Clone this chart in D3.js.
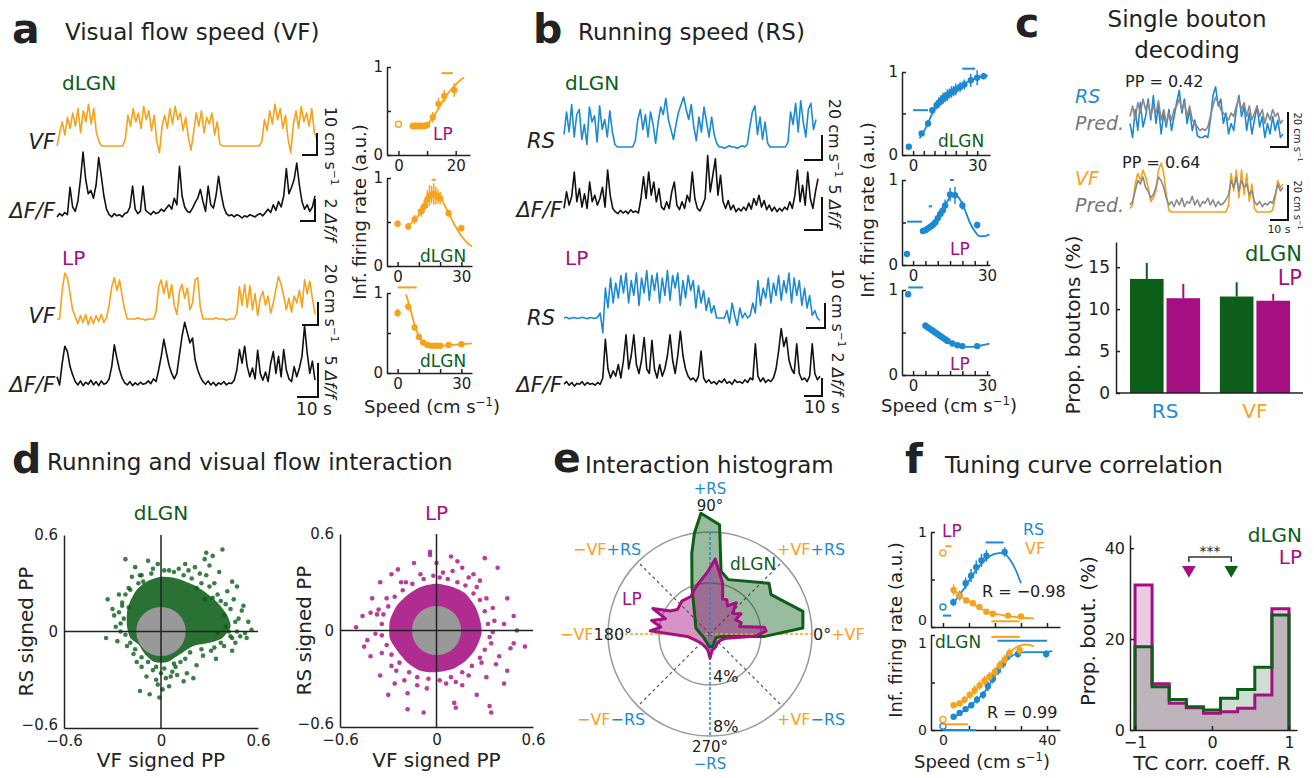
<!DOCTYPE html>
<html>
<head>
<meta charset="utf-8">
<script src="https://cdn.jsdelivr.net/npm/d3@7/dist/d3.min.js"></script>
<style>
  body { margin: 0; background: #fff; }
  svg text { font-family: "DejaVu Sans", "Liberation Sans", sans-serif; fill: #222; }
</style>
</head>
<body>
<script>
// ---------- traces (a, b): one sample every ~2.6 px ----------
const vfDlgn = [0,6,11,5,13,8,15,9,17,6,16,11,19,10,17,6,2,0,0,0,0,0,0,0,0,0,3,14,9,17,11,15,8,18,12,16,7,14,2,-3,9,14,8,17,10,18,12,15,7,13,4,-2,6,15,9,16,6,13,10,15,5,11,1,0,0,0,0,0,0,0,0,0,0,0,0,0,0,0,2,12,7,16,10,19,12,17,8,14,3,-3,10,16,8,18,11,15,9,17,6,3];
const dffDlgnA = [0.1,0.4,0.2,0.5,0.3,2.8,1.0,0.6,1.5,3.5,6.0,3.5,2.2,2.5,1.8,3.0,5.5,3.8,2.0,0.8,0.3,0.1,0.4,0.2,0.3,0.1,0.4,0.5,1.0,2.9,0.8,0.4,0.6,2.9,0.7,0.5,0.3,0.6,0.4,0.5,0.8,0.6,0.9,1.2,0.8,1.8,1.2,4.7,2.0,1.0,0.6,0.5,0.9,1.4,1.8,2.6,1.5,0.6,2.9,1.2,0.9,2.0,3.8,2.2,1.0,0.4,0.2,0.3,0.1,0.3,0.2,0.0,0.2,0.1,0.3,0.2,0.1,0.3,0.4,0.2,0.5,0.8,0.5,1.2,0.7,1.5,1.0,2.0,4.5,2.2,2.8,3.5,5.0,3.0,1.5,0.8,1.2,0.6,1.0,2.0];
const vfLp = [0,0,25,40,36,22,8,2,-4,3,-3,4,-5,2,-4,3,-2,4,-3,1,12,28,36,25,34,20,8,0,0,0,0,1,0,0,-1,0,0,0,6,28,34,22,33,18,30,12,4,24,30,18,27,8,14,34,36,10,0,0,0,0,0,1,0,0,0,-1,0,0,0,5,28,12,30,10,29,8,22,3,18,24,12,20,5,14,26,37,30,20,8,18,6,20,14,25,10,34,22,33,18,4];
const dffLpA = [1.5,0.3,3.5,6.0,5.2,3.0,1.8,0.8,0.3,0.9,0.2,0.7,0.4,1.0,0.3,0.8,0.2,0.9,0.4,0.6,1.2,3.0,6.2,4.2,2.5,1.3,0.6,0.3,0.8,0.2,0.6,0.3,0.7,0.4,0.5,0.9,0.5,1.2,0.8,2.5,4.5,7.0,5.0,3.2,2.0,1.2,2.0,4.8,7.5,9.5,8.0,6.5,7.2,4.0,2.5,1.5,0.8,0.4,0.9,0.3,0.7,0.2,0.6,0.4,0.8,0.3,0.6,0.5,1.0,2.5,5.5,3.5,6.0,3.0,1.5,2.8,1.2,5.4,2.0,1.0,2.2,0.8,3.5,5.2,2.0,4.5,1.5,5.5,2.5,1.2,0.8,3.0,1.5,2.8,4.5,9.0,5.0,2.0,3.8,1.0];
const rsDlgn = [10,28,12,34,8,26,30,6,18,2,32,20,25,4,33,14,22,8,29,12,2,0,0,0,0,0,0,0,5,22,30,14,26,8,28,18,3,20,32,26,39,22,14,6,18,28,34,40,30,22,34,16,5,24,12,32,20,8,24,10,3,0,0,-1,0,1,0,0,-1,0,1,0,2,16,28,33,10,24,6,20,3,0,0,0,0,0,0,0,4,28,18,35,12,37,20,8,30,35,14,22];
const dffDlgnB = [1.0,3.5,1.5,2.8,6.5,2.0,4.0,1.2,3.2,1.0,5.0,2.0,3.0,1.5,2.5,4.2,1.2,6.8,3.0,1.0,0.5,0.2,0.7,0.3,0.6,0.2,0.8,0.4,0.6,0.3,2.5,5.8,2.5,6.5,3.0,5.0,2.0,4.0,1.2,0.8,2.0,1.0,3.5,5.0,1.5,0.8,2.0,1.0,3.0,2.0,6.5,2.5,1.0,0.6,1.5,2.5,9.0,3.5,6.0,8.5,3.0,6.0,2.0,1.0,2.2,0.8,1.5,0.5,1.0,0.6,1.2,0.7,1.8,0.9,2.5,1.5,3.0,1.2,2.2,0.8,1.5,0.6,1.2,0.5,1.0,0.6,1.2,0.8,2.0,1.0,3.0,6.8,2.0,4.5,1.5,6.5,2.5,1.0,3.5,5.5];
const rsLp = [0,0.3,-0.3,0,0.2,-0.2,0,0.3,0,-0.3,0.2,0,-0.2,0.3,2,-6,12,4,16,6,14,8,17,10,18,6,15,9,18,5,16,10,19,7,17,11,18,6,16,9,19,7,17,12,18,5,15,8,17,11,15,4,13,6,11,3,8,2,5,0,0,0,0,3,-2,6,1,-3,4,0,2,0,1,6,2,15,5,12,8,16,6,14,9,17,7,15,10,18,6,16,9,15,5,12,4,9,1,3,0,-1];
const dffLpB = [0.3,0.6,0.2,0.5,0.1,0.4,0.3,0.6,0.2,0.5,0.3,0.4,0.2,0.5,0.3,1.0,5.3,2.0,1.0,1.8,1.2,2.5,1.0,3.0,5.8,2.0,3.5,5.8,2.5,1.5,3.0,5.5,2.0,1.5,5.2,2.0,1.0,2.5,1.2,2.0,3.5,5.8,3.0,1.5,3.5,6.2,3.5,2.0,1.2,0.8,1.0,0.6,1.2,4.0,1.0,0.5,0.8,0.4,0.6,0.3,0.7,0.5,0.9,0.4,0.6,0.3,0.8,0.5,0.6,0.4,0.8,0.5,1.0,0.8,4.8,1.2,0.6,1.0,0.5,0.8,0.6,1.0,2.0,4.0,6.5,4.5,5.5,3.0,2.0,1.5,4.8,1.5,0.8,1.0,0.6,1.2,4.8,1.5,0.8,1.2];

// ---------- decoding traces (c), cm/s ----------
const rsDecoded = [10,2,18,6,22,8,14,24,12,26,10,20,4,16,8,18,6,14,22,29,16,24,10,18,6,12,3,2,2,3,2,12,26,31,20,24,10,16,4,10,6,18,26,14,20,6,16,4,12,20,8,14,2,10,4,14,6,12,2,4];
const rsPredicted = [14,20,12,22,16,24,18,22,14,20,16,23,12,18,10,16,12,18,20,24,18,22,14,20,12,10,8,6,7,6,8,14,20,25,22,18,16,14,12,16,14,20,24,18,22,14,20,12,16,20,14,18,10,16,12,18,14,16,10,12];
const vfDecoded = [2,4,16,22,18,24,20,14,6,8,12,24,28,22,10,1,0,0,0,0,0,0,0,0,0,0,0,0,0,0,0,0,0,0,0,0,0,0,4,22,12,24,8,24,10,22,6,16,2,0,0,0,0,0,0,1,8,18,14,16];
const vfPredicted = [4,6,12,18,16,20,14,12,8,10,14,20,18,14,8,4,6,3,7,4,8,3,6,5,9,4,7,3,6,5,8,4,7,3,6,4,5,7,10,18,14,20,12,18,14,16,10,12,6,4,6,3,5,4,6,5,10,16,12,14];

// ---------- tuning curves: [speed, rate, err], fits, significance bars [x1, x2, y] ----------
const aLpVfPts = [[5,0.33,0.04],[6,0.33,0.04],[7,0.33,0.04],[8,0.33,0.04],[9,0.33,0.04],[10,0.34,0.04],[12,0.43,0.06],[14,0.58,0.07],[16,0.67,0.07],[19.5,0.74,0.08]];
const aLpVfOpen = [[0,0.35]];
const aLpVfFit = [[4,0.33],[8,0.33],[10,0.35],[12,0.42],[14,0.53],[16,0.64],[18,0.73],[20,0.8],[22,0.86],[23,0.88]];
const aLpVfBar = [[15,19,0.93]];
const aDlgnVf1Pts = [[0,0.48,0.04],[5,0.45,0.04],[8,0.53,0.05],[11,0.62,0.06],[12.5,0.68,0.07],[14,0.76,0.1],[15,0.8,0.12],[16,0.81,0.1],[17,0.82,0.12],[18,0.8,0.1],[19,0.79,0.08],[20,0.77,0.07],[24,0.6,0.04],[30,0.43,0.04]];
const aDlgnVf1Fit = [[4,0.45],[8,0.52],[11,0.62],[14,0.75],[17,0.82],[19,0.81],[21,0.74],[24,0.6],[27,0.46],[30,0.34],[33,0.26],[35,0.22]];
const aDlgnVf1Bar = [[16,18,0.98]];
const aDlgnVf2Pts = [[0,0.75,0.05],[5,0.83,0.05],[8,0.57,0.04],[10,0.45,0.03],[12,0.38,0.03],[14,0.35,0.03],[16,0.34,0.03],[18,0.34,0.03],[20,0.34,0.03],[24,0.35,0.03],[30,0.36,0.03]];
const aDlgnVf2Fit = [[4,0.98],[6,0.8],[8,0.6],[10,0.46],[12,0.38],[15,0.34],[20,0.34],[25,0.35],[30,0.36],[35,0.37]];
const aDlgnVf2Bar = [[0,9,1.07]];
const bDlgnRsPts = [[-2,0.1,0.02],[4,0.26,0.03],[7,0.38,0.04],[9,0.54,0.04],[11,0.6,0.05],[12,0.63,0.06],[13,0.66,0.06],[14,0.68,0.07],[15,0.7,0.06],[16,0.72,0.07],[17,0.74,0.06],[18,0.76,0.07],[19,0.77,0.06],[20,0.79,0.07],[22,0.82,0.06],[24,0.85,0.06],[27,0.9,0.08],[30,0.93,0.09],[33,0.95,0.04]];
const bDlgnRsFit = [[3,0.2],[6,0.33],[9,0.5],[12,0.62],[15,0.7],[18,0.77],[21,0.82],[24,0.86],[27,0.9],[30,0.93],[35,0.96]];
const bDlgnRsBar = [[0,7,0.54],[23,29,1.04]];
const bLpRs1Pts = [[-2.5,0.13,0.02],[4,0.4,0.03],[5,0.41,0.03],[6,0.43,0.03],[7,0.45,0.03],[8,0.47,0.04],[9,0.5,0.04],[10,0.55,0.05],[11,0.6,0.06],[12,0.64,0.06],[13,0.7,0.07],[15,0.83,0.08],[17,0.82,0.1],[20,0.7,0.05],[26,0.47,0.04]];
const bLpRs1Fit = [[4,0.4],[7,0.45],[10,0.55],[13,0.7],[15,0.8],[17,0.83],[19,0.77],[21,0.65],[23,0.5],[25,0.4],[27,0.34],[29,0.34],[31,0.36]];
const bLpRs1Bar = [[-2.4,3.6,0.51],[6.3,7.7,0.69],[15,16.5,1.0]];
const bLpRs2Pts = [[-2,0.95,0.03],[5,0.58,0.04],[6,0.56,0.04],[7,0.54,0.04],[8,0.52,0.04],[9,0.5,0.04],[10,0.48,0.04],[11,0.46,0.04],[12,0.44,0.04],[13,0.42,0.04],[14,0.4,0.03],[16,0.37,0.03],[18,0.35,0.03],[20,0.34,0.03],[26,0.34,0.03]];
const bLpRs2Fit = [[4,0.6],[8,0.52],[12,0.44],[16,0.37],[20,0.33],[24,0.33],[28,0.35],[31,0.37]];
const bLpRs2Bar = [[-2,4,1.03]];
const fLpRsPts = [[4,0.26,0.04],[6.4,0.33,0.05],[8.7,0.46,0.06],[10.8,0.54,0.07],[12.8,0.63,0.07],[14.8,0.7,0.07],[16.7,0.75,0.06],[23.7,0.79,0.05]];
const fLpRsOpen = [[0,0.21]];
const fLpRsFit = [[4,0.25],[8,0.4],[12,0.57],[16,0.7],[20,0.77],[23,0.78],[26,0.7],[28,0.6],[30,0.46]];
const fLpRsBar = [[16.4,23.3,0.89],[0,3.2,0.12]];
const fLpVfPts = [[4.1,0.39,0.06],[6.4,0.33,0.04],[9,0.28,0.03],[11.5,0.25,0.03],[14,0.21,0.03],[16.7,0.16,0.02],[19.2,0.14,0.02],[25,0.12,0.02],[30,0.11,0.02]];
const fLpVfOpen = [[0,0.78]];
const fLpVfFit = [[4,0.4],[7,0.32],[10,0.27],[14,0.2],[18,0.15],[22,0.13],[26,0.11],[30,0.1],[35,0.09]];
const fLpVfBar = [[0.9,3.2,0.85],[18.6,29.5,0.06]];
const fDlgnRsPts = [[4.1,0.14,0.02],[6.4,0.18,0.02],[8.7,0.22,0.03],[10.9,0.26,0.03],[13.1,0.32,0.04],[15.4,0.37,0.04],[17.3,0.46,0.05],[19.2,0.54,0.05],[21.2,0.63,0.05],[23.1,0.7,0.05],[25.4,0.79,0.05],[28.8,0.8,0.04],[39.7,0.8,0.04]];
const fDlgnRsOpen = [[0,0.04]];
const fDlgnRsFit = [[4,0.13],[8,0.2],[12,0.29],[16,0.4],[20,0.57],[24,0.72],[28,0.8],[32,0.82],[38,0.82],[42,0.83]];
const fDlgnRsBar = [[21,40,0.94],[0,12.8,0.0]];
const fDlgnVfPts = [[4.1,0.26,0.03],[6.4,0.28,0.03],[8.3,0.32,0.04],[10.3,0.37,0.04],[12.2,0.42,0.05],[14.1,0.47,0.05],[16,0.52,0.05],[17.9,0.56,0.05],[19.9,0.61,0.05],[21.8,0.68,0.05],[23.7,0.74,0.05],[25.6,0.81,0.05],[29.5,0.84,0.05]];
const fDlgnVfOpen = [[0,0.11]];
const fDlgnVfFit = [[4,0.25],[8,0.31],[12,0.41],[16,0.52],[20,0.63],[24,0.76],[27,0.85],[30,0.89],[32,0.9],[35,0.88]];
const fDlgnVfBar = [[18.6,29.5,0.98],[0,9.6,0.06]];

// ---------- c: proportion of boutons ----------
const barCats = ["RS", "VF"];
const barAreas = ["dLGN", "LP"];
const barVals = [[13.6, 11.3], [11.5, 11.0]];
const barErrTop = [[15.5, 13.0], [13.2, 11.8]];

// ---------- d: signed PP scatter (dense core outline + individual boutons) ----------
const grayRadius = 0.153;
const dlgnCore = [[0,0.34],[0.1,0.33],[0.2,0.29],[0.28,0.24],[0.35,0.18],[0.41,0.1],[0.43,0.03],[0.38,-0.04],[0.3,-0.07],[0.2,-0.09],[0.12,-0.14],[0.04,-0.19],[-0.04,-0.19],[-0.1,-0.14],[-0.14,-0.08],[-0.19,-0.04],[-0.21,0.03],[-0.21,0.12],[-0.19,0.19],[-0.15,0.26],[-0.09,0.31]];
const dlgnPts = [[0.38,0.51],[0.28,0.49],[0.32,0.47],[0.27,0.45],[-0.22,0.45],[-0.02,0.42],[0.15,0.42],[0.21,0.40],[0.17,0.38],[0.36,0.37],[0.28,0.35],[0.44,0.31],[-0.13,0.35],[-0.18,0.34],[-0.33,0.2],[-0.26,0.23],[0.50,0.13],[0.54,0.06],[0.56,0.01],[0.52,-0.01],[0.49,-0.03],[0.42,0],[0.43,-0.03],[-0.34,-0.04],[-0.28,0.03],[-0.25,0],[0.39,-0.09],[0.31,-0.12],[0.22,-0.21],[0.16,-0.26],[0.2,-0.29],[0.09,-0.22],[0.06,-0.28],[0.01,-0.36],[-0.01,-0.41],[0.05,-0.34],[-0.07,-0.39],[-0.13,-0.37],[-0.09,-0.28],[-0.17,-0.14],[-0.12,-0.22],[-0.05,-0.24],[0.03,-0.29],[0.12,-0.19],[0.35,-0.01],[0.40,0.03],[0.37,0.19],[0.45,0.2],[0.48,0.08],[0.41,0.25],[0.33,0.3],[0.24,0.36],[0.11,0.39],[0.05,0.38],[-0.06,0.36],[-0.11,0.31],[-0.2,0.27],[-0.24,0.18],[-0.29,0.1],[-0.27,-0.06],[-0.21,-0.09],[-0.15,-0.19],[-0.03,-0.3],[0.1,-0.27],[0.26,-0.15],[0.34,-0.17],[0.46,-0.07],[0.51,0.16],[0.3,0.41],[-0.3,0.14],[-0.23,0.08],[-0.02,-0.33],[0.14,-0.31],[0.44,-0.12],[0.53,-0.04],[0.47,0.28],[-0.16,0.4],[-0.08,0.44],
  [0.02,0.38],[0.08,0.37],[0.14,0.35],[0.19,0.33],[0.25,0.3],[0.3,0.28],[0.35,0.23],[0.4,0.17],[0.43,0.14],[0.46,0.06],[0.47,0.0],[0.44,-0.04],[0.37,-0.07],[0.33,-0.1],[0.25,-0.11],[0.18,-0.13],[0.15,-0.17],[0.08,-0.2],[0.02,-0.23],[-0.03,-0.22],[-0.08,-0.19],[-0.12,-0.16],[-0.16,-0.11],[-0.19,-0.07],[-0.22,-0.02],[-0.25,0.05],[-0.26,0.12],[-0.24,0.16],[-0.22,0.23],[-0.19,0.26],[-0.14,0.3],[-0.12,0.35],[-0.05,0.39],[0.22,0.27],[0.32,0.21],[0.27,0.2],[0.39,0.1],[-0.2,0.15],[0.0,-0.26],[0.07,-0.25]];
const lpCore = [[0,0.29],[0.1,0.27],[0.18,0.23],[0.24,0.15],[0.27,0.07],[0.28,-0.02],[0.24,-0.12],[0.18,-0.19],[0.1,-0.24],[0,-0.26],[-0.1,-0.25],[-0.18,-0.2],[-0.24,-0.13],[-0.29,-0.05],[-0.29,0.06],[-0.25,0.15],[-0.18,0.22],[-0.1,0.27]];
const lpPts = [[-0.04,0.49],[-0.04,0.47],[0.09,0.46],[0.30,0.45],[0.38,0.39],[-0.24,0.38],[-0.46,0.09],[-0.41,0.11],[-0.35,0.30],[0.50,0],[0.55,-0.10],[0.46,-0.11],[0.44,-0.25],[0.33,-0.47],[0.34,-0.51],[0.11,-0.45],[0.12,-0.48],[-0.08,-0.51],[-0.18,-0.49],[0.16,-0.34],[-0.12,-0.34],[-0.35,-0.28],[-0.41,-0.16],[0.27,0.31],[0.16,0.39],[0.35,0.14],[0.42,0.04],[0.48,-0.08],[0.37,-0.21],[0.31,-0.29],[-0.18,-0.39],[-0.26,-0.33],[-0.43,-0.06],[-0.28,0.35],[0.23,0.35],[0.48,0.09],[0.04,0.36],[-0.1,0.35],[-0.19,0.3],[-0.31,0.2],[-0.37,0.1],[-0.38,-0.02],[-0.34,-0.14],[-0.28,-0.22],[-0.2,-0.31],[-0.06,-0.36],[0.06,-0.33],[0.2,-0.28],[0.28,-0.2],[0.34,-0.08],[0.36,0.06],[0.31,0.2],[0.2,0.33],[0.1,0.37],[-0.4,0.2],[-0.3,-0.4],[0.42,-0.33],[0.25,-0.4],[-0.5,0.02],[0.44,0.2],[-0.14,0.42],[0.0,0.42],[0.39,-0.16],[-0.45,-0.1],[0.13,0.43],
  [0.02,0.33],[0.07,0.32],[0.13,0.3],[0.18,0.28],[0.23,0.23],[0.27,0.19],[0.3,0.12],[0.32,0.04],[0.33,-0.04],[0.3,-0.12],[0.27,-0.17],[0.22,-0.22],[0.16,-0.26],[0.09,-0.29],[0.02,-0.31],[-0.05,-0.3],[-0.12,-0.29],[-0.17,-0.26],[-0.23,-0.2],[-0.28,-0.15],[-0.31,-0.09],[-0.34,-0.03],[-0.34,0.04],[-0.33,0.1],[-0.3,0.15],[-0.26,0.21],[-0.21,0.25],[-0.15,0.29],[-0.08,0.32],[-0.02,0.34],[0.25,0.27],[-0.36,0.13],[0.35,-0.01],[0.12,-0.32],[-0.25,-0.25],[-0.22,0.3]];

// ---------- e: polar histogram, [angle deg, % boutons] ----------
const polarDlgn = [[-12,0.9],[-2.5,4.3],[3.7,7.3],[13.7,7.5],[32.8,5.7],[40.7,6.1],[71.4,4.5],[80,5.0],[85,8.6],[94.3,9.5],[98.8,8.0],[102.7,6.5],[110.7,4.0],[157,1.2],[171,0.85],[197,0.6],[241,0.65],[267,1.0],[282,1.0],[326,0.55]];
const polarLp = [[-3,3.5],[3,4.4],[7,4.3],[14,2.4],[20,2.6],[29,2.3],[33,2.9],[42,2.4],[50,3.2],[58,2.6],[64,3.0],[70,2.9],[76,4.1],[86,5.9],[92,4.9],[106,3.9],[117,3.3],[130,3.4],[143,3.2],[150,3.6],[156,4.9],[161,3.7],[167,4.7],[172,3.9],[177,4.7],[186,1.8],[200,1.3],[225,1.0],[252,1.1],[263,1.3],[270,1.9],[277,1.3],[295,1.1],[310,0.9],[333,1.0],[345,1.3]];

// ---------- f: TC correlation histogram ----------
const histEdges = [-1,-0.778,-0.556,-0.333,-0.111,0.111,0.333,0.556,0.778,1];
const histDlgn = [18.3,9.5,6.7,5.1,4.4,7.0,8.9,13.8,25.3];
const histLp = [31.9,10.2,5.9,4.9,3.7,4.0,4.8,7.7,26.7];
const medianLp = -0.3, medianDlgn = 0.25;

// ---------- drawing ----------
const ORANGE = "#f7a21c", BLUE = "#1c8ad2", GREEN = "#0c5e18", MAGENTA = "#a50f82", PRED = "#8a8a8a", INK = "#222";

const svg = d3.select("body").append("svg").attr("width", 1314).attr("height", 778);

// text helper: parts = string or [[text, color, "sup"|"it"]]
function label(x, y, parts, size, o = {}) {
  const t = svg.append("text").attr("x", x).attr("y", y).attr("font-size", size)
    .attr("text-anchor", o.anchor || "start");
  if (o.bold) t.attr("font-weight", "bold");
  if (o.italic) t.attr("font-style", "italic");
  if (o.rotate) t.attr("transform", `rotate(${o.rotate},${x},${y})`);
  if (typeof parts === "string") parts = [[parts, o.color || INK]];
  let shift = 0;
  parts.forEach(p => {
    const s = t.append("tspan").text(p[0]).style("fill", p[1] || INK);
    if (p[2] === "sup") { s.attr("font-size", size * 0.65).attr("dy", -size * 0.4); shift = size * 0.4; }
    else if (shift) { s.attr("dy", shift); shift = 0; }
    if (p[2] === "it") s.attr("font-style", "italic");
  });
  return t;
}

function styleAxis(g, size) {
  g.attr("font-size", size).attr("font-family", null);
  g.select(".domain").attr("stroke", INK).attr("stroke-width", 1.5);
  g.selectAll(".tick line").attr("stroke", INK).attr("stroke-width", 1.5);
}

function trace(vals, x0, x1, base, pxPerUnit, color, w) {
  const x = d3.scaleLinear().domain([0, vals.length - 1]).range([x0, x1]);
  const y = d3.scaleLinear().domain([0, 1]).range([base, base - pxPerUnit]);
  svg.append("path").datum(vals)
    .attr("fill", "none").attr("stroke", color).attr("stroke-width", w || 1.6)
    .attr("stroke-linejoin", "round")
    .attr("d", d3.line().x((d, i) => x(i)).y(d => y(d)));
}

function scaleBar(x, yb, vlen, hlen) {
  svg.append("path").attr("d", `M${x - hlen},${yb}H${x}V${yb - vlen}`)
    .attr("fill", "none").attr("stroke", "#111").attr("stroke-width", 2);
}

function tuning(o) {
  const x = d3.scaleLinear().domain(o.xDom).range([o.left, o.right]);
  const y = d3.scaleLinear().domain([0, 1]).range([o.bottom, o.top]);
  const gx = svg.append("g").attr("transform", `translate(0,${o.bottom})`)
    .call(d3.axisBottom(x).tickValues(o.xTicks).tickSizeInner(-4).tickSizeOuter(0).tickPadding(5)
      .tickFormat(v => (o.xLab || []).includes(v) ? v : ""));
  const gy = svg.append("g").attr("transform", `translate(${o.left},0)`)
    .call(d3.axisLeft(y).tickValues([0, 0.5, 1]).tickSizeInner(-4).tickSizeOuter(0).tickPadding(4)
      .tickFormat(v => v === 0.5 ? "" : v));
  styleAxis(gx, o.font || 15); styleAxis(gy, o.font || 15);
  // nudge stacked 0/1 labels apart where two plots touch
  if (o.dy0) gy.selectAll(".tick text").filter(v => v === 0).attr("dy", o.dy0);
  if (o.dy1) gy.selectAll(".tick text").filter(v => v === 1).attr("dy", o.dy1);
  o.curves.forEach(c => {
    svg.append("path").datum(c.fit).attr("fill", "none").attr("stroke", c.color).attr("stroke-width", 1.8)
      .attr("d", d3.line().x(d => x(d[0])).y(d => y(d[1])).curve(d3.curveMonotoneX));
    (c.bars || []).forEach(b => svg.append("line")
      .attr("x1", x(b[0])).attr("x2", x(b[1])).attr("y1", y(b[2])).attr("y2", y(b[2]))
      .attr("stroke", c.color).attr("stroke-width", 2));
    c.pts.forEach(p => {
      svg.append("line").attr("x1", x(p[0])).attr("x2", x(p[0]))
        .attr("y1", y(p[1] - p[2])).attr("y2", y(p[1] + p[2]))
        .attr("stroke", c.color).attr("stroke-width", 1.5);
      svg.append("circle").attr("cx", x(p[0])).attr("cy", y(p[1])).attr("r", 3.2).attr("fill", c.color);
    });
    (c.open || []).forEach(p => svg.append("circle").attr("cx", x(p[0])).attr("cy", y(p[1])).attr("r", 3)
      .attr("fill", "#fff").attr("stroke", c.color).attr("stroke-width", 1.4));
  });
}

// ===== panel a =====
label(12, 43, "a", 41, { bold: true });
label(65, 40, "Visual flow speed (VF)", 23);
label(62, 90, "dLGN", 20, { color: GREEN });
label(62, 265, "LP", 20, { color: MAGENTA });
label(55, 149, "VF", 21, { italic: true, anchor: "end" });
label(55, 218, "ΔF/F", 21, { italic: true, anchor: "end" });
label(55, 323, "VF", 21, { italic: true, anchor: "end" });
label(55, 392, "ΔF/F", 21, { italic: true, anchor: "end" });
trace(vfDlgn, 57, 317, 146, 2.2, ORANGE);
trace(dffDlgnA, 57, 315, 218, 11, "#111");
trace(vfLp, 57, 315, 319, 1.15, ORANGE);
trace(dffLpA, 57, 315, 387, 6.8, "#111");
scaleBar(317, 155, 10 * 2.2, 15);
scaleBar(315, 221, 2 * 11, 15);
scaleBar(318, 325, 20 * 1.15, 16);
scaleBar(318, 397, 5 * 6.8, 21);
label(325, 146, [["10 cm s"], ["−1", INK, "sup"]], 16, { anchor: "middle", rotate: 90 });
label(325, 220, [["2 "], ["Δf/f", INK, "it"]], 16, { anchor: "middle", rotate: 90 });
label(325, 303, [["20 cm s"], ["−1", INK, "sup"]], 16, { anchor: "middle", rotate: 90 });
label(325, 377, [["5 "], ["Δf/f", INK, "it"]], 16, { anchor: "middle", rotate: 90 });
label(314, 415, "10 s", 17, { anchor: "middle" });

tuning({ left: 387, right: 470, xDom: [-4, 25], top: 67, bottom: 155, xTicks: [0, 10, 20], xLab: [0, 20],
  curves: [{ pts: aLpVfPts, open: aLpVfOpen, fit: aLpVfFit, bars: aLpVfBar, color: ORANGE }] });
tuning({ left: 387, right: 472, xDom: [-5, 35], top: 178, bottom: 266, xTicks: [0, 10, 20, 30], xLab: [0, 30],
  curves: [{ pts: aDlgnVf1Pts, fit: aDlgnVf1Fit, bars: aDlgnVf1Bar, color: ORANGE }] });
tuning({ left: 387, right: 472, xDom: [-5, 35], top: 293, bottom: 373, xTicks: [0, 10, 20, 30], xLab: [0, 30],
  curves: [{ pts: aDlgnVf2Pts, fit: aDlgnVf2Fit, bars: aDlgnVf2Bar, color: ORANGE }] });
label(433, 140, "LP", 17, { color: MAGENTA });
label(420, 262, "dLGN", 17, { color: GREEN });
label(420, 367, "dLGN", 17, { color: GREEN });
label(366, 212, "Inf. firing rate (a.u.)", 18, { anchor: "middle", rotate: -90 });
label(432, 413, [["Speed (cm s"], ["−1", INK, "sup"], [")"]], 18, { anchor: "middle" });

// ===== panel b =====
label(533, 43, "b", 41, { bold: true });
label(578, 40, "Running speed (RS)", 23);
label(565, 90, "dLGN", 20, { color: GREEN });
label(565, 265, "LP", 20, { color: MAGENTA });
label(555, 148, "RS", 21, { italic: true, anchor: "end" });
label(562, 217, "ΔF/F", 21, { italic: true, anchor: "end" });
label(555, 325, "RS", 21, { italic: true, anchor: "end" });
label(562, 392, "ΔF/F", 21, { italic: true, anchor: "end" });
trace(rsDlgn, 564, 816, 147, 1.25, BLUE);
trace(dffDlgnB, 564, 818, 215, 6.6, "#111");
trace(rsLp, 564, 820, 318, 2.5, BLUE);
trace(dffLpB, 564, 820, 387, 9, "#111");
scaleBar(822, 160, 20 * 1.25, 18);
scaleBar(822, 230, 5 * 6.6, 18);
scaleBar(825, 328, 10 * 2.5, 19);
scaleBar(822, 396, 2 * 9, 18);
label(829, 138, [["20 cm s"], ["−1", INK, "sup"]], 16, { anchor: "middle", rotate: 90 });
label(829, 206, [["5 "], ["Δf/f", INK, "it"]], 16, { anchor: "middle", rotate: 90 });
label(832, 308, [["10 cm s"], ["−1", INK, "sup"]], 16, { anchor: "middle", rotate: 90 });
label(832, 374, [["2 "], ["Δf/f", INK, "it"]], 16, { anchor: "middle", rotate: 90 });
label(822, 413, "10 s", 17, { anchor: "middle" });

tuning({ left: 902, right: 990, xDom: [-5.2, 36], top: 72, bottom: 155, xTicks: [0, 5, 10, 15, 20, 25, 30], xLab: [0, 30],
  curves: [{ pts: bDlgnRsPts, fit: bDlgnRsFit, bars: bDlgnRsBar, color: BLUE }] });
tuning({ left: 902, right: 990, xDom: [-4.5, 31.2], top: 180, bottom: 265, xTicks: [0, 5, 10, 15, 20, 25, 30], xLab: [0, 30],
  curves: [{ pts: bLpRs1Pts, fit: bLpRs1Fit, bars: bLpRs1Bar, color: BLUE }] });
tuning({ left: 902, right: 990, xDom: [-4.5, 31.2], top: 290, bottom: 375, xTicks: [0, 5, 10, 15, 20, 25, 30], xLab: [0, 30],
  curves: [{ pts: bLpRs2Pts, fit: bLpRs2Fit, bars: bLpRs2Bar, color: BLUE }] });
label(938, 147, "dLGN", 17, { color: GREEN });
label(950, 255, "LP", 17, { color: MAGENTA });
label(950, 370, "LP", 17, { color: MAGENTA });
label(874, 210, "Inf. firing rate (a.u.)", 18, { anchor: "middle", rotate: -90 });
label(949, 412, [["Speed (cm s"], ["−1", INK, "sup"], [")"]], 18, { anchor: "middle" });

// ===== panel c =====
label(1015, 37, "c", 41, { bold: true });
label(1187, 27, "Single bouton", 23, { anchor: "middle" });
label(1187, 58, "decoding", 23, { anchor: "middle" });
label(1125, 87, "PP = 0.42", 16);
label(1122, 168, "PP = 0.64", 16);
label(1075, 103, "RS", 19, { italic: true, color: BLUE });
label(1075, 130, "Pred.", 19, { italic: true, color: "#777" });
label(1075, 185, "VF", 19, { italic: true, color: ORANGE });
label(1075, 212, "Pred.", 19, { italic: true, color: "#777" });
trace(rsDecoded, 1130, 1283, 141, 1.75, BLUE, 1.6);
trace(rsPredicted, 1130, 1283, 141, 1.75, PRED, 1.6);
trace(vfDecoded, 1130, 1283, 212, 1.75, ORANGE, 1.6);
trace(vfPredicted, 1130, 1283, 212, 1.75, PRED, 1.6);
scaleBar(1288, 147, 20 * 1.75, 18);
scaleBar(1288, 220, 20 * 1.75, 18);
label(1294, 137, [["20 cm s"], ["−1", INK, "sup"]], 10, { anchor: "middle", rotate: 90 });
label(1294, 205, [["20 cm s"], ["−1", INK, "sup"]], 10, { anchor: "middle", rotate: 90 });
label(1279, 233, "10 s", 11, { anchor: "middle" });

{
  const x0 = d3.scaleBand().domain(barCats).range([1121, 1299]).paddingInner(0.22).paddingOuter(0.1);
  const x1 = d3.scaleBand().domain(barAreas).range([0, x0.bandwidth()]).paddingInner(0.08);
  const y = d3.scaleLinear().domain([0, 18]).range([393, 242]);
  const colors = { dLGN: GREEN, LP: MAGENTA };
  barCats.forEach((c, i) => barAreas.forEach((a, j) => {
    const bx = x0(c) + x1(a);
    svg.append("line").attr("x1", bx + x1.bandwidth() / 2).attr("x2", bx + x1.bandwidth() / 2)
      .attr("y1", y(barVals[i][j])).attr("y2", y(barErrTop[i][j]))
      .attr("stroke", colors[a]).attr("stroke-width", 2);
    svg.append("rect").attr("x", bx).attr("y", y(barVals[i][j]))
      .attr("width", x1.bandwidth()).attr("height", y(0) - y(barVals[i][j])).attr("fill", colors[a]);
  }));
  const gy = svg.append("g").attr("transform", "translate(1116,0)")
    .call(d3.axisLeft(y).tickValues([0, 5, 10, 15]).tickSizeInner(-4).tickSizeOuter(0).tickPadding(6));
  styleAxis(gy, 17);
  svg.append("line").attr("x1", 1116).attr("x2", 1303).attr("y1", y(0)).attr("y2", y(0))
    .attr("stroke", INK).attr("stroke-width", 1.5);
  label(x0("RS") + x0.bandwidth() / 2, 418, "RS", 20, { anchor: "middle", color: BLUE });
  label(x0("VF") + x0.bandwidth() / 2, 418, "VF", 20, { anchor: "middle", color: ORANGE });
  label(1302, 261, "dLGN", 21, { anchor: "end", color: GREEN });
  label(1302, 285, "LP", 21, { anchor: "end", color: MAGENTA });
  label(1080, 325, "Prop. boutons (%)", 20, { anchor: "middle", rotate: -90 });
}

// ===== panel d =====
label(12, 473, "d", 41, { bold: true });
label(47, 470, "Running and visual flow interaction", 23);

function scatter(left, right, top, bottom, core, pts, color, name, ylabX) {
  const x = d3.scaleLinear().domain([-0.6, 0.6]).range([left, right]);
  const y = d3.scaleLinear().domain([-0.6, 0.6]).range([bottom, top]);
  svg.append("path").datum(core).attr("fill", color).attr("fill-opacity", 0.88)
    .attr("d", d3.line().x(d => x(d[0])).y(d => y(d[1])).curve(d3.curveCardinalClosed.tension(0.3)));
  svg.append("g").selectAll("circle").data(pts).join("circle")
    .attr("cx", d => x(d[0])).attr("cy", d => y(d[1])).attr("r", 2.3)
    .attr("fill", color).attr("fill-opacity", 0.8);
  svg.append("ellipse").attr("cx", x(0)).attr("cy", y(0))
    .attr("rx", x(grayRadius) - x(0)).attr("ry", y(0) - y(grayRadius)).attr("fill", "#999");
  svg.append("line").attr("x1", x(-0.6)).attr("x2", x(0.6)).attr("y1", y(0)).attr("y2", y(0))
    .attr("stroke", INK).attr("stroke-width", 1.5);
  svg.append("line").attr("x1", x(0)).attr("x2", x(0)).attr("y1", y(-0.6)).attr("y2", y(0.6))
    .attr("stroke", INK).attr("stroke-width", 1.5);
  const fmt = v => v === 0 ? "0" : d3.format(".1f")(v);
  const gx = svg.append("g").attr("transform", `translate(0,${bottom})`)
    .call(d3.axisBottom(x).tickValues([-0.6, 0, 0.6]).tickSize(0).tickPadding(7).tickFormat(fmt));
  const gy = svg.append("g").attr("transform", `translate(${left},0)`)
    .call(d3.axisLeft(y).tickValues([-0.6, 0, 0.6]).tickSize(0).tickPadding(6).tickFormat(fmt));
  styleAxis(gx, 15); styleAxis(gy, 15);
  gy.selectAll(".tick text").filter(v => v === -0.6).attr("dy", "0.1em");
  label((left + right) / 2, 520, name, 20, { anchor: "middle", color: color });
  label((left + right) / 2, 767, "VF signed PP", 20, { anchor: "middle" });
  label(ylabX, (top + bottom) / 2, "RS signed PP", 20, { anchor: "middle", rotate: -90 });
}
scatter(64, 258, 535, 728, dlgnCore, dlgnPts, GREEN, "dLGN", 33);
scatter(340, 533, 534, 727, lpCore, lpPts, MAGENTA, "LP", 311);

// ===== panel e =====
label(553, 472, "e", 41, { bold: true });
label(585, 473, "Interaction histogram", 23);
{
  const cx = 710, cy = 634;
  const r = d3.scaleLinear().domain([0, 8]).range([0, 102]);
  const g = svg.append("g").attr("transform", `translate(${cx},${cy})`);
  [4, 8].forEach(v => g.append("circle").attr("r", r(v)).attr("fill", "none")
    .attr("stroke", "#999").attr("stroke-width", 1.5));
  [45, 135, 225, 315].forEach(a => {
    const t = a * Math.PI / 180;
    g.append("line").attr("x1", 0).attr("y1", 0).attr("x2", r(8) * Math.cos(t)).attr("y2", -r(8) * Math.sin(t))
      .attr("stroke", "#555").attr("stroke-width", 1.2).attr("stroke-dasharray", "3,3");
  });
  const radial = d3.lineRadial().angle(d => (90 - d[0]) * Math.PI / 180).radius(d => r(d[1]))
    .curve(d3.curveLinearClosed);
  g.append("path").datum(polarDlgn).attr("d", radial).attr("fill", GREEN).attr("fill-opacity", 0.42);
  g.append("path").datum(polarLp).attr("d", radial).attr("fill", MAGENTA).attr("fill-opacity", 0.45);
  g.append("line").attr("x1", -95).attr("x2", r(8)).attr("y1", 0).attr("y2", 0)
    .attr("stroke", ORANGE).attr("stroke-width", 1.5).attr("stroke-dasharray", "3,2");
  g.append("line").attr("x1", 0).attr("x2", 0).attr("y1", -r(8)).attr("y2", r(8))
    .attr("stroke", BLUE).attr("stroke-width", 1.5).attr("stroke-dasharray", "3,2");
  g.append("path").datum(polarDlgn).attr("d", radial).attr("fill", "none")
    .attr("stroke", GREEN).attr("stroke-width", 3).attr("stroke-linejoin", "round");
  g.append("path").datum(polarLp).attr("d", radial).attr("fill", "none")
    .attr("stroke", MAGENTA).attr("stroke-width", 3).attr("stroke-linejoin", "round");
}
label(710, 494, "+RS", 15, { anchor: "middle", color: BLUE });
label(710, 511, "90°", 15, { anchor: "middle" });
label(573, 555, [["−VF", ORANGE], ["+RS", BLUE]], 16);
label(777, 555, [["+VF", ORANGE], ["+RS", BLUE]], 16);
label(560, 640, [["−VF", ORANGE], ["180°", INK]], 16);
label(813, 640, [["0°", INK], ["+VF", ORANGE]], 16);
label(577, 725, [["−VF", ORANGE], ["−RS", BLUE]], 16);
label(777, 725, [["+VF", ORANGE], ["−RS", BLUE]], 16);
label(713, 682, "4%", 16);
label(713, 732, "8%", 16);
label(710, 752, "270°", 15, { anchor: "middle" });
label(710, 769, "−RS", 15, { anchor: "middle", color: BLUE });
label(730, 570, "dLGN", 17, { color: GREEN });
label(622, 605, "LP", 17, { color: MAGENTA });

// ===== panel f =====
label(905, 473, "f", 41, { bold: true });
label(945, 473, "Tuning curve correlation", 23);
tuning({ left: 931, right: 1060, xDom: [-4.6, 45], top: 532, bottom: 627, xTicks: [0, 10, 20, 30, 40], xLab: [], font: 14,
  dy0: "-0.2em",
  curves: [
    { pts: fLpRsPts, open: fLpRsOpen, fit: fLpRsFit, bars: fLpRsBar, color: BLUE },
    { pts: fLpVfPts, open: fLpVfOpen, fit: fLpVfFit, bars: fLpVfBar, color: ORANGE }] });
tuning({ left: 931, right: 1060, xDom: [-4.6, 45], top: 635, bottom: 730, xTicks: [0, 10, 20, 30, 40], xLab: [0, 40], font: 14,
  dy1: "0.9em",
  curves: [
    { pts: fDlgnRsPts, open: fDlgnRsOpen, fit: fDlgnRsFit, bars: fDlgnRsBar, color: BLUE },
    { pts: fDlgnVfPts, open: fDlgnVfOpen, fit: fDlgnVfFit, bars: fDlgnVfBar, color: ORANGE }] });
label(942, 537, "LP", 17, { color: MAGENTA });
label(1023, 535, "RS", 16, { color: BLUE });
label(1025, 554, "VF", 16, { color: ORANGE });
label(982, 597, "R = −0.98", 16);
label(935, 648, "dLGN", 17, { color: GREEN });
label(987, 718, "R = 0.99", 16);
label(902, 630, "Inf. firing rate (a.u.)", 18, { anchor: "middle", rotate: -90 });
label(982, 768, [["Speed (cm s"], ["−1", INK, "sup"], [")"]], 18, { anchor: "middle" });

{
  const x = d3.scaleLinear().domain([-1.065, 1.104]).range([1130, 1297]);
  const y = d3.scaleLinear().domain([0, 42.9]).range([730, 535]);
  const step = vals => {
    const p = [[histEdges[0], 0]];
    vals.forEach((v, i) => { p.push([histEdges[i], v]); p.push([histEdges[i + 1], v]); });
    p.push([histEdges[histEdges.length - 1], 0]);
    return p;
  };
  const line = d3.line().x(d => x(d[0])).y(d => y(d[1]));
  svg.append("path").datum(step(histLp)).attr("d", d => line(d) + "Z").attr("fill", MAGENTA).attr("fill-opacity", 0.22);
  svg.append("path").datum(step(histDlgn)).attr("d", d => line(d) + "Z").attr("fill", GREEN).attr("fill-opacity", 0.2);
  svg.append("path").datum(step(histLp)).attr("d", line).attr("fill", "none")
    .attr("stroke", MAGENTA).attr("stroke-width", 3);
  svg.append("path").datum(step(histDlgn)).attr("d", line).attr("fill", "none")
    .attr("stroke", GREEN).attr("stroke-width", 3);
  const gx = svg.append("g").attr("transform", "translate(0,730)")
    .call(d3.axisBottom(x).tickValues([-1, 0, 1]).tickSizeInner(-4).tickSizeOuter(0).tickPadding(7)
      .tickFormat(d3.format("d")));
  const gy = svg.append("g").attr("transform", "translate(1130,0)")
    .call(d3.axisLeft(y).tickValues([0, 20, 40]).tickSizeInner(-4).tickSizeOuter(0).tickPadding(5));
  styleAxis(gx, 16); styleAxis(gy, 16);
  const tri = d3.symbol().type(d3.symbolTriangle).size(80);
  [[medianLp, MAGENTA], [medianDlgn, GREEN]].forEach(m => svg.append("path").attr("d", tri)
    .attr("transform", `translate(${x(m[0])},570) rotate(180)`).attr("fill", m[1]));
  svg.append("path").attr("d", `M${x(medianLp)},562V557H${x(medianDlgn)}V562`)
    .attr("fill", "none").attr("stroke", "#333").attr("stroke-width", 1.5);
  label((x(medianLp) + x(medianDlgn)) / 2, 556, "***", 14, { anchor: "middle" });
  label(1302, 542, "dLGN", 20, { anchor: "end", color: GREEN });
  label(1302, 564, "LP", 20, { anchor: "end", color: MAGENTA });
  label(1095, 631, "Prop. bout. (%)", 20, { anchor: "middle", rotate: -90 });
  label(1212, 770, "TC corr. coeff. R", 20, { anchor: "middle" });
}
</script>
</body>
</html>
